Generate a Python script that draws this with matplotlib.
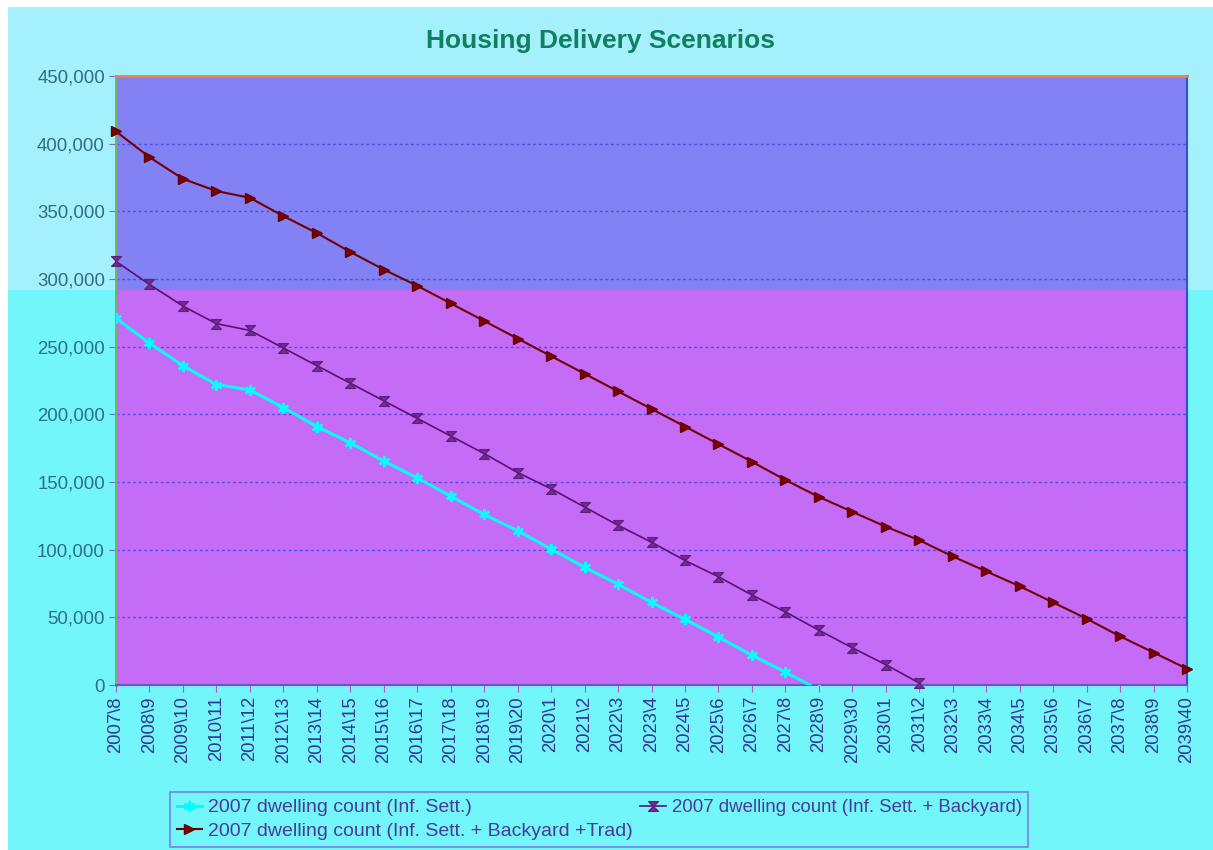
import matplotlib
matplotlib.use("Agg")
import matplotlib.pyplot as plt
from matplotlib.patches import Rectangle
from matplotlib.path import Path
from matplotlib.ticker import FuncFormatter, MultipleLocator

plt.rcParams['font.family'] = ['Liberation Sans', 'DejaVu Sans']

years = ["2007\\8", "2008\\9", "2009\\10", "2010\\11", "2011\\12", "2012\\13", "2013\\14",
         "2014\\15", "2015\\16", "2016\\17", "2017\\18", "2018\\19", "2019\\20", "2020\\1",
         "2021\\2", "2022\\3", "2023\\4", "2024\\5", "2025\\6", "2026\\7", "2027\\8",
         "2028\\9", "2029\\30", "2030\\1", "2031\\2", "2032\\3", "2033\\4", "2034\\5",
         "2035\\6", "2036\\7", "2037\\8", "2038\\9", "2039\\40"]

inf_sett = [271000, 252500, 236000, 222000, 218000, 205000, 191000, 179000, 165500,
            153000, 139500, 126000, 114000, 100500, 87000, 74500, 61000, 48500, 35500,
            22000, 9500, -3500]

backyard = [313000, 296000, 280000, 267000, 262000, 249000, 236000, 223000, 210000,
            197000, 184000, 171000, 157000, 145000, 131500, 118000, 105500, 92000, 80000,
            66500, 54000, 40500, 27500, 15000, 1500]

trad = [409000, 390000, 374000, 365000, 360000, 346500, 334000, 320000, 307000, 295000,
        282000, 269000, 256000, 243000, 230000, 217000, 204000, 191000, 178000, 165000,
        151500, 139000, 128000, 117000, 107000, 95000, 84000, 73000, 61000, 49000, 36000,
        24000, 12000]

labels = ["2007 dwelling count (Inf. Sett.)",
          "2007 dwelling count (Inf. Sett. + Backyard)",
          "2007 dwelling count (Inf. Sett. + Backyard +Trad)"]

W, H = 1213, 850
fig = plt.figure(figsize=(W / 100, H / 100), dpi=100)
fig.patch.set_facecolor('#72F6FA')

split = 1 - 290 / H
fig.patches.append(Rectangle((0, split), 1, 1 - split, transform=fig.transFigure,
                             facecolor='#A4F0FD', edgecolor='none', zorder=-5))
fig.patches.append(Rectangle((0, 1 - 7 / H), 1, 7 / H, transform=fig.transFigure,
                             facecolor='white', edgecolor='none', zorder=-4))
fig.patches.append(Rectangle((0, 0), 8 / W, 1, transform=fig.transFigure,
                             facecolor='white', edgecolor='none', zorder=-4))

left, right, top, bottom = 116, 1187, 76, 685
ax = fig.add_axes([left / W, 1 - bottom / H, (right - left) / W, (bottom - top) / H])
ax.set_facecolor('none')
asplit = (bottom - 290) / (bottom - top)
ax.add_patch(Rectangle((0, asplit), 1, 1 - asplit, transform=ax.transAxes,
                       facecolor='#8282F4', edgecolor='none', zorder=0.1))
ax.add_patch(Rectangle((0, 0), 1, asplit, transform=ax.transAxes,
                       facecolor='#C46CF6', edgecolor='none', zorder=0.1))

x_all = list(range(len(years)))

hourglass = Path([(-1, 1), (1, 1), (-1, -1), (1, -1), (-1, 1)],
                 [Path.MOVETO, Path.LINETO, Path.LINETO, Path.LINETO, Path.CLOSEPOLY])

l1, = ax.plot(x_all[:len(inf_sett)], inf_sett, color='#00FFFF', lw=2.2,
              marker=(6, 2, 0), ms=8, mew=1.8, mec='#00FFFF', zorder=3)
l2, = ax.plot(x_all[:len(backyard)], backyard, color='#5A1070', lw=1.2,
              marker=hourglass, ms=7, mfc='#7A2A9A', mec='#602080', mew=1,
              zorder=4, clip_on=False)
l3, = ax.plot(x_all[:len(trad)], trad, color='#700000', lw=1.5,
              marker='>', ms=6.5, mfc='#800000', mec='#600000', zorder=5, clip_on=False)

ax.set_xlim(0, len(years) - 1)
ax.set_ylim(0, 450000)
ax.yaxis.set_major_locator(MultipleLocator(50000))
ax.yaxis.set_major_formatter(FuncFormatter(lambda v, p: f"{int(v):,}"))
ax.set_xticks(x_all)
ax.set_xticklabels(years, rotation=90, fontsize=13.3, color='#34349A')
ax.tick_params(axis='x', direction='out', length=5, color='#C050D0', pad=3)
ax.tick_params(axis='y', direction='out', length=5, color='#7070E0', labelsize=13.4,
               labelcolor='#2E6E86', pad=3)

ax.set_axisbelow(True)
ax.yaxis.grid(True, color='#5050E0', lw=1, ls=(0, (2, 2)), zorder=0.5)

ax.spines['top'].set_color('#F08040')
ax.spines['top'].set_linestyle((0, (2, 1)))
ax.spines['top'].set_linewidth(2)
ax.spines['right'].set_color('#3050D0')
ax.spines['right'].set_linewidth(1.5)
ax.spines['left'].set_color('#70B060')
ax.spines['left'].set_linewidth(2)
ax.spines['bottom'].set_color('#7050D0')
ax.spines['bottom'].set_linewidth(1.5)

fig.text(600 / W, 1 - 41 / H, "Housing Delivery Scenarios", ha='center', va='center',
         fontsize=19, fontweight='bold', color='#108060')

leg = fig.legend([l1, l3, l2], [labels[0], labels[2], labels[1]], ncol=2,
                 loc='upper left', bbox_to_anchor=(170 / W, 1 - 792 / H),
                 frameon=True, fancybox=False, fontsize=14, handlelength=1.3,
                 handletextpad=0.3, columnspacing=0.4, borderpad=0.35,
                 labelspacing=0.3, borderaxespad=0, labelcolor='#4A3A9A')
leg.get_texts()[2].set_fontsize(13.4)
leg.get_frame().set_facecolor('none')
leg.get_frame().set_edgecolor('#8060E0')
leg.get_frame().set_linewidth(1.2)

fig.savefig("out.png", dpi=100, facecolor=fig.get_facecolor())
